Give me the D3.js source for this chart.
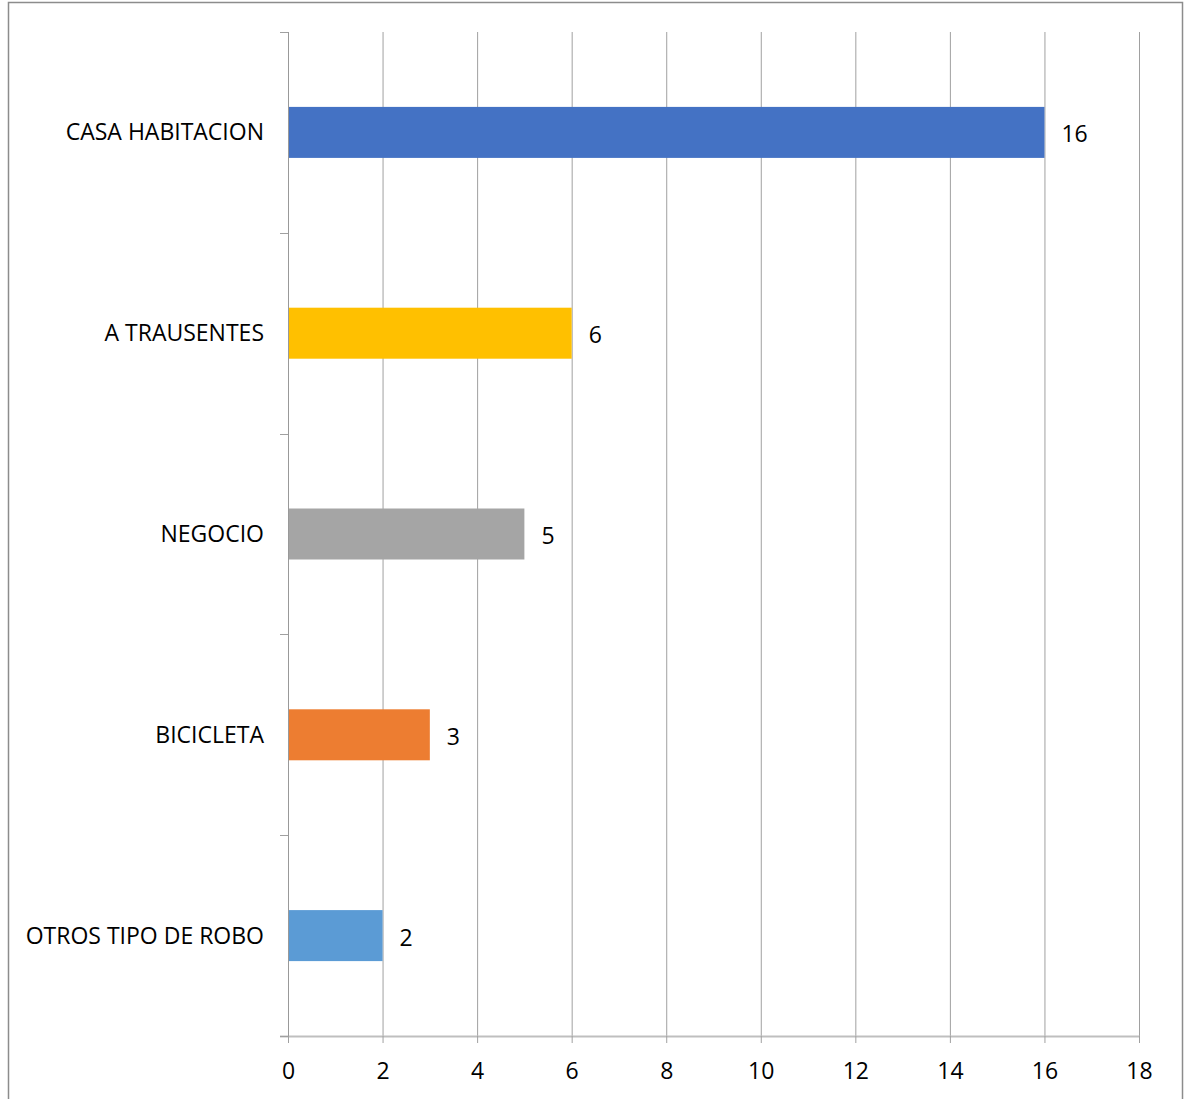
<!DOCTYPE html>
<html>
<head>
<meta charset="utf-8">
<script src="https://cdn.jsdelivr.net/npm/d3@7"></script>
<style>
  body { margin: 0; background: #fff; }
  svg { display: block; font-family: "Open Sans", sans-serif; }
</style>
</head>
<body>
<svg id="chart" width="1188" height="1099"></svg>
<script>
// data
const categories = ["CASA HABITACION", "A TRAUSENTES", "NEGOCIO", "BICICLETA", "OTROS TIPO DE ROBO"];
const values = [16, 6, 5, 3, 2];
const barColors = ["#4472C4", "#FFC000", "#A5A5A5", "#ED7D31", "#5B9BD5"];
const xTicks = [0, 2, 4, 6, 8, 10, 12, 14, 16, 18];

const data = categories.map((c, i) => ({ name: c, value: values[i], color: barColors[i] }));

const width = 1188;
const height = 1099;
const margin = { top: 32, right: 49, bottom: 63, left: 288 };
const fontSize = 23;

const svg = d3.select('#chart');

// outer chart border
svg.append('rect')
  .attr('x', 8.5).attr('y', 2.5)
  .attr('width', 1174).attr('height', height + 20)
  .attr('fill', 'none')
  .attr('stroke', '#8c8c8c')
  .attr('stroke-width', 1.5);

const xScale = d3.scaleLinear()
  .domain([0, 18])
  .range([margin.left, width - margin.right]);

const yScale = d3.scaleBand()
  .domain(categories)
  .range([margin.top, height - margin.bottom])
  .paddingInner(0.746)
  .paddingOuter(0.373);

const plotTop = margin.top;
const plotBottom = height - margin.bottom;

// vertical gridlines
svg.append('g')
  .selectAll('line')
  .data(xTicks.slice(1))
  .join('line')
  .attr('x1', d => xScale(d) + 0.5)
  .attr('x2', d => xScale(d) + 0.5)
  .attr('y1', plotTop)
  .attr('y2', plotBottom)
  .attr('stroke', '#a0a0a0')
  .attr('stroke-width', 1);

// x axis
const xAxis = d3.axisBottom(xScale)
  .tickValues(xTicks)
  .tickSize(7)
  .tickPadding(20);

const gx = svg.append('g')
  .attr('transform', `translate(0,${plotBottom})`)
  .call(xAxis);
gx.select('.domain')
  .attr('d', `M${margin.left - 8},0.5H${xScale(18) + 0.5}`)
  .attr('stroke', '#bfbfbf')
  .attr('stroke-width', 2);
gx.selectAll('.tick line').attr('stroke', '#a0a0a0');
gx.selectAll('.tick text')
  .attr('font-size', fontSize)
  .attr('fill', '#000')
  .attr('font-family', '"Open Sans", sans-serif');

// y axis: ticks between categories
const step = yScale.step();
const boundaries = d3.range(categories.length + 1).map(i => plotTop + i * step);

const gy = svg.append('g');
gy.append('line')
  .attr('x1', margin.left + 0.5).attr('x2', margin.left + 0.5)
  .attr('y1', plotTop).attr('y2', plotBottom)
  .attr('stroke', '#999')
  .attr('stroke-width', 1);
gy.selectAll('line.tick')
  .data(boundaries)
  .join('line')
  .attr('class', 'tick')
  .attr('x1', margin.left - 8)
  .attr('x2', margin.left)
  .attr('y1', d => Math.round(d) + 0.5)
  .attr('y2', d => Math.round(d) + 0.5)
  .attr('stroke', '#a0a0a0');

gy.selectAll('text')
  .data(categories)
  .join('text')
  .attr('x', margin.left - 24)
  .attr('y', d => yScale(d) + yScale.bandwidth() / 2)
  .attr('dy', '0.35em')
  .attr('text-anchor', 'end')
  .attr('font-size', fontSize)
  .attr('fill', '#000')
  .text(d => d);

// bars
svg.append('g')
  .selectAll('rect')
  .data(data)
  .join('rect')
  .attr('x', xScale(0) + 1)
  .attr('y', d => yScale(d.name))
  .attr('width', d => xScale(d.value) - xScale(0) - 1)
  .attr('height', yScale.bandwidth())
  .attr('fill', d => d.color);

// value labels
svg.append('g')
  .selectAll('text')
  .data(data)
  .join('text')
  .attr('x', d => xScale(d.value) + 17)
  .attr('y', d => yScale(d.name) + yScale.bandwidth() / 2 + 2)
  .attr('dy', '0.35em')
  .attr('font-size', fontSize)
  .attr('fill', '#000')
  .text(d => d.value);
</script>
</body>
</html>
